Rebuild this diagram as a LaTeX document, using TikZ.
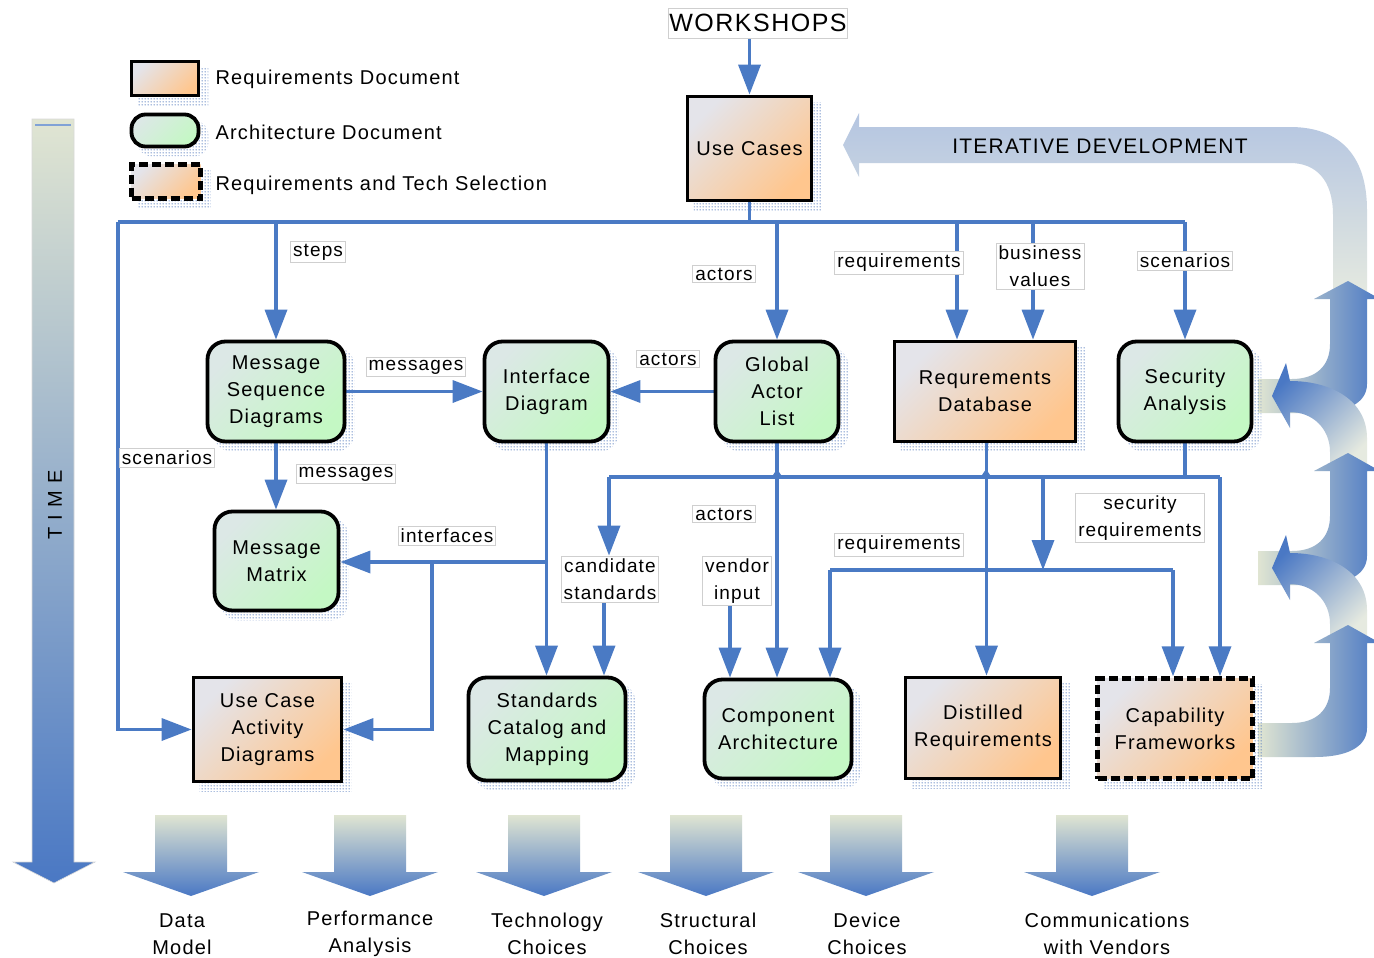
\documentclass[tikz,border=0pt]{standalone}
\usepackage{fontspec}
\setmainfont{Liberation Sans}[LetterSpace=6]
\usetikzlibrary{arrows.meta,patterns.meta}

\definecolor{lineblue}{HTML}{4A7AC4}
\definecolor{docpale}{HTML}{E4E4EA}
\definecolor{docorange}{HTML}{FFC68E}
\definecolor{archpale}{HTML}{DCE8E6}
\definecolor{archgreen}{HTML}{C4F8C4}
\definecolor{tagframe}{HTML}{CFCFCF}
\definecolor{shadowdots}{HTML}{5A7EC0}
\definecolor{flowblue}{HTML}{4A78C4}
\definecolor{flowpale}{HTML}{E0E5D2}
\definecolor{iterblue}{HTML}{B4C5E1}
\definecolor{iterpale}{HTML}{E6EAE0}

\newcommand\boxfont{\fontsize{20}{27}\selectfont}
\newcommand\tagfont{\fontsize{19}{27}\selectfont}

% stippled drop shadow
\tikzdeclarepattern{
  name=stipple,
  type=uncolored,
  bounding box={(0pt,0pt) and (3pt,3pt)},
  tile size={(3pt,3pt)},
  code={\pgfpathcircle{\pgfpoint{1.5pt}{1.5pt}}{0.9pt}\pgfusepath{fill}}
}

% fat block arrows: rising bend and returning bend on the right margin
\newcommand\risingarc[1]{%
  \shade[left color=flowpale,right color=flowblue,shift={(0,#1)}]
    (1258,-17) -- (1292,-17) .. controls (1316,-17) and (1330,-30) .. (1330,-52)
    -- (1330,-97) -- (1314,-97) -- (1348,-115) -- (1380,-97) -- (1367,-97)
    -- (1367,-12) .. controls (1367,8) and (1345,17) .. (1315,17)
    -- (1258,17) -- cycle;}
\newcommand\returnarc[1]{%
  \shade[top color=flowblue,bottom color=iterpale,shading angle=45,shift={(0,#1)}]
    (1272,0) -- (1286,-33) -- (1290,-15) .. controls (1332,-15) and (1367,5) .. (1367,42)
    -- (1367,76) -- (1330,76) -- (1330,56) .. controls (1330,32) and (1312,16) .. (1290,16)
    -- (1290,32) -- cycle;}

\pgfdeclarelayer{back}
\pgfdeclarelayer{wires}
\pgfsetlayers{back,wires,main}

\tikzset{
  boxbase/.style={draw=black,line width=3.8pt,align=center,font=\boxfont,inner sep=0pt},
  docbox/.style={boxbase,top color=docpale,bottom color=docorange,shading angle=45},
  archbox/.style={boxbase,top color=archpale,bottom color=archgreen,shading angle=45,rounded corners=18pt},
  techbox/.style={docbox,line width=4.5pt,dash pattern=on 9pt off 4pt},
  tag/.style={fill=white,draw=tagframe,line width=0.8pt,inner sep=2.5pt,align=center,font=\tagfont},
  wire/.style={draw=lineblue,line width=3.5pt},
  flow/.style={wire,-{Triangle[width=22pt,length=30pt]}},
  caption/.style={align=center,font=\boxfont},
  stippled/.style={pattern=stipple,pattern color=shadowdots},
}

\begin{document}
\begin{tikzpicture}[x=1pt,y=-1pt]
\useasboundingbox (0,0) rectangle (1374,958);

\begin{pgfonlayer}{back}
  \fill[white] (0,0) rectangle (1374,958);
  % time axis
  \shade[top color=flowpale,bottom color=flowblue,draw=black!15,line width=0.6pt]
    (32,119) -- (74,119) -- (74,862) -- (95,862) -- (54,883) -- (13,862) -- (32,862) -- cycle;
  \draw[lineblue!70,line width=2pt] (35,125) -- (71,125);
  % outputs along the bottom
  \foreach \c in {191,370,544,706,866,1092}
    \shade[top color=flowpale,bottom color=flowblue]
      (\c-36,815) -- (\c+36,815) -- (\c+36,872) -- (\c+68,872) -- (\c,896)
      -- (\c-68,872) -- (\c-36,872) -- cycle;
  % iteration loop
  \shade[top color=iterblue,bottom color=iterpale]
    (843,145) -- (859,113) -- (859,127) -- (1290,127) .. controls (1342,127) and (1367,158) .. (1367,210)
    -- (1367,300) -- (1333,300) -- (1333,215) .. controls (1333,180) and (1316,163) .. (1290,163)
    -- (859,163) -- (859,177) -- cycle;
  \risingarc{396}
  \returnarc{396}
  \risingarc{568}
  \returnarc{568}
  \risingarc{740}
\end{pgfonlayer}

\node[font=\fontsize{21}{24}\selectfont] (itertxt) at (1100,146) {ITERATIVE DEVELOPMENT};
\node[rotate=90,font=\boxfont] (timetxt) at (55,505) {\addfontfeature{LetterSpace=35}TIME};

% key
\node[docbox,minimum width=67pt,minimum height=34pt] (keydoc) at (165,78.5) {};
\node[archbox,rounded corners=14pt,minimum width=67pt,minimum height=32pt] (keyarch) at (165,130.5) {};
\node[techbox,minimum width=69pt,minimum height=34pt] (keytech) at (166,181.5) {};
\node[anchor=west,font=\boxfont] (keydoctxt) at (212,79) {Requirements Document};
\node[anchor=west,font=\boxfont] (keyarchtxt) at (212,132) {Architecture Document};
\node[anchor=west,font=\boxfont] (keytechtxt) at (212,185) {Requirements and Tech Selection};

% documents
\node[tag,font=\fontsize{25}{30}\selectfont,minimum width=176pt,minimum height=30pt,inner sep=1pt] (ws) at (758,23) {WORKSHOPS};
\node[docbox,minimum width=124pt,minimum height=104pt] (uc) at (749.5,148.5) {Use Cases};
\node[archbox,minimum width=137pt,minimum height=100pt] (msd) at (276,391.5) {Message\\Sequence\\Diagrams};
\node[archbox,minimum width=124pt,minimum height=100pt] (idg) at (546.5,391.5) {Interface\\Diagram};
\node[archbox,minimum width=123pt,minimum height=100pt] (gal) at (777,391.5) {Global\\Actor\\List};
\node[docbox,minimum width=181pt,minimum height=100pt] (rdb) at (985,391.5) {Requrements\\Database};
\node[archbox,minimum width=133pt,minimum height=100pt] (sa) at (1185,391.5) {Security\\Analysis};
\node[archbox,minimum width=124pt,minimum height=99pt] (mm) at (276.5,561) {Message\\Matrix};
\node[docbox,minimum width=148pt,minimum height=104pt] (ucad) at (267.5,729.5) {Use Case\\Activity\\Diagrams};
\node[archbox,minimum width=157pt,minimum height=103pt] (scm) at (547,729) {Standards\\Catalog and\\Mapping};
\node[archbox,minimum width=147pt,minimum height=99pt] (ca) at (778,729) {Component\\Architecture};
\node[docbox,minimum width=155pt,minimum height=101pt] (dr) at (983,728) {Distilled\\Requirements};
\node[techbox,minimum width=155pt,minimum height=100pt] (cf) at (1175,728.5) {Capability\\Frameworks};

% stippled shadows behind the documents
\begin{pgfonlayer}{back}
  \foreach \n in {keydoc,keytech,uc,rdb,ucad,dr,cf}
    \fill[stippled] ([shift={(8pt,-8pt)}]\n.south west) rectangle ([shift={(8pt,-8pt)}]\n.north east);
  \fill[stippled,rounded corners=14pt] ([shift={(8pt,-8pt)}]keyarch.south west) rectangle ([shift={(8pt,-8pt)}]keyarch.north east);
  \foreach \n in {msd,idg,gal,sa,mm,scm,ca}
    \fill[stippled,rounded corners=18pt] ([shift={(8pt,-8pt)}]\n.south west) rectangle ([shift={(8pt,-8pt)}]\n.north east);
\end{pgfonlayer}

% connector labels
\node[tag] (tsteps) at (318,252) {steps};
\node[tag] (tactors1) at (724,274) {actors};
\node[tag] (treq1) at (899,263) {requirements};
\node[tag] (tbiz) at (1040,266) {business\\values};
\node[tag] (tscen1) at (1185,261) {scenarios};
\node[tag] (tmsg1) at (416,367) {messages};
\node[tag] (tactors2) at (668,359) {actors};
\node[tag] (tscen2) at (167,458) {scenarios};
\node[tag] (tmsg2) at (346,474) {messages};
\node[tag] (tif) at (447,536) {interfaces};
\node[tag] (cand) at (610,579) {candidate\\standards};
\node[tag] (tactors3) at (724,514) {actors};
\node[tag] (vend) at (737,581) {vendor\\input};
\node[tag] (treq2) at (899,545) {requirements};
\node[tag] (tsec) at (1140,518) {security\\requirements};

% outputs
\node[caption] (o1) at (182,934) {Data\\Model};
\node[caption] (o2) at (370,934) {Performance\\Analysis};
\node[caption] (o3) at (547,934) {Technology\\Choices};
\node[caption] (o4) at (708,934) {Structural\\Choices};
\node[caption] (o5) at (867,934) {Device\\Choices};
\node[caption] (o6) at (1107,934) {Communications\\with Vendors};

\begin{pgfonlayer}{wires}
  \draw[flow] (uc.north |- ws.south) -- (uc.north);
  % use case bus
  \coordinate (jl) at (118,222);
  \coordinate (j1) at (276,222);
  \coordinate (j2) at (777,222);
  \coordinate (j3) at (957,222);
  \coordinate (j4) at (1033,222);
  \coordinate (j5) at (1185,222);
  \draw[wire] (uc.south) -- (uc.south |- jl);
  \draw[wire] (jl) -- (j5);
  \draw[flow] (jl) |- (ucad.west);
  \draw[flow] (j1) -- (j1 |- msd.north);
  \draw[flow] (j2) -- (j2 |- gal.north);
  \draw[flow] (j3) -- (j3 |- rdb.north);
  \draw[flow] (j4) -- (j4 |- rdb.north);
  \draw[flow] (j5) -- (j5 |- sa.north);
  % architecture flows
  \draw[flow] (msd.east) -- (idg.west);
  \draw[flow] (gal.west) -- (idg.east);
  \draw[flow] (msd.south) -- (msd.south |- mm.north);
  \draw[flow] (idg.south) -- (idg.south |- scm.north);
  \coordinate (ji) at (546.5,562);
  \coordinate (jk) at (432,562);
  \draw[flow] (ji) -- (ji -| mm.east);
  \draw[flow] (jk) |- (ucad.east);
  % second bus
  \coordinate (k1) at (609,477);
  \coordinate (k2) at (1220,477);
  \coordinate (k3) at (1043,477);
  \draw[flow] (gal.south) -- (gal.south |- ca.north);
  \draw[flow] ([xshift=1.5pt]rdb.south) -- ([xshift=1.5pt]rdb.south |- dr.north);
  \draw[wire] (sa.south) -- (sa.south |- k2);
  \draw[wire] (k1) -- (k2);
  \fill[lineblue] (771,478) -- (777,469) -- (783,478) -- cycle;
  \fill[lineblue] (980,478) -- (986,469) -- (992,478) -- cycle;
  \draw[flow] (k1) -- (k1 |- cand.north);
  \draw[flow] ([xshift=-6pt]cand.south) -- ([xshift=-6pt]cand.south |- scm.north);
  \draw[flow] ([xshift=-7pt]vend.south) -- ([xshift=-7pt]vend.south |- ca.north);
  \draw[flow] (k2) -- (k2 |- cf.north);
  % requirements bus
  \coordinate (m1) at (830,570);
  \coordinate (m2) at (1043,570);
  \coordinate (m3) at (1173,570);
  \draw[flow] (k3) -- (m2);
  \draw[wire] (m1) -- (m3);
  \draw[flow] (m1) -- (m1 |- ca.north);
  \draw[flow] (m3) -- (m3 |- cf.north);
\end{pgfonlayer}
\end{tikzpicture}
\end{document}
